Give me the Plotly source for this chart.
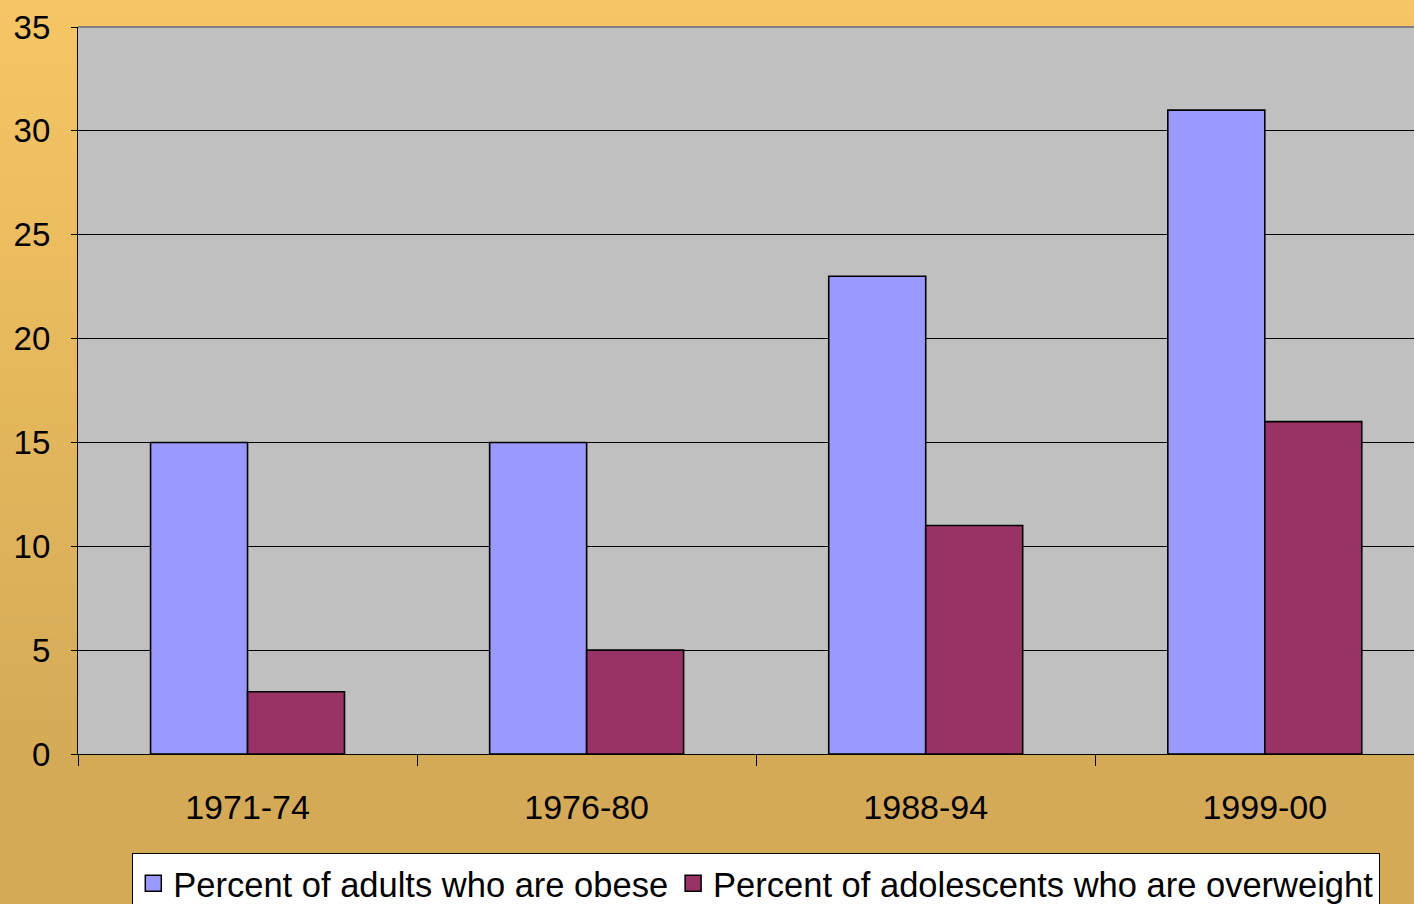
import plotly.graph_objects as go

categories = ["1971-74", "1976-80", "1988-94", "1999-00"]
adults_obese = [15, 15, 23, 31]
adolescents_overweight = [3, 5, 11, 16]
series_names = ["Percent of adults who are obese", "Percent of adolescents who are overweight"]
series_colors = ["#9999FF", "#993366"]
y_ticks = [0, 5, 10, 15, 20, 25, 30, 35]

W, H = 1414, 904
FAMILY = "Liberation Sans, Arial, sans-serif"

fig = go.Figure()
for name, vals, col in zip(series_names, [adults_obese, adolescents_overweight], series_colors):
    fig.add_trace(go.Bar(
        x=categories, y=vals, name=name, showlegend=False,
        marker=dict(color=col, line=dict(color="black", width=1.6)),
    ))
# legend entries (larger square swatches)
for name, col in zip(series_names, series_colors):
    fig.add_trace(go.Scatter(
        x=[None], y=[None], mode="markers", name=name,
        marker=dict(symbol="square", size=16, color=col, line=dict(color="black", width=1.5)),
    ))

# background gradient bands (paper)
shapes = []
top_rgb = (246, 198, 100)
bot_rgb = (212, 170, 86)
grad_end = 760
step = 4
for y0 in range(0, H, step):
    t = min(1.0, (y0 + step / 2) / grad_end)
    c = tuple(round(a + (b - a) * t) for a, b in zip(top_rgb, bot_rgb))
    shapes.append(dict(
        type="rect", xref="paper", yref="paper", layer="below",
        x0=-78 / 1336, x1=1.0,
        y0=1 - (y0 - 27) / 727, y1=1 - (y0 + step - 27) / 727,
        line=dict(width=0), fillcolor="rgb(%d,%d,%d)" % c,
    ))
# plot area background
shapes.append(dict(type="rect", xref="x domain", yref="y domain", layer="below",
                   x0=0, x1=1, y0=0, y1=1, line=dict(width=0), fillcolor="#C0C0C0"))
# top border (gray)
shapes.append(dict(type="line", xref="x domain", yref="y domain", layer="above",
                   x0=0, x1=1, y0=1, y1=1, line=dict(color="#808080", width=2)))

fig.update_layout(
    width=W, height=H,
    margin=dict(l=78, r=0, t=27, b=150, autoexpand=False),
    paper_bgcolor="rgba(0,0,0,0)",
    plot_bgcolor="rgba(0,0,0,0)",
    font=dict(family=FAMILY, size=33, color="black"),
    barmode="group",
    bargap=0.428,
    bargroupgap=0,
    shapes=shapes,
    showlegend=True,
    legend=dict(
        orientation="h", x=(132 - 78) / 1336, xanchor="left",
        y=(754 - 853) / 727, yanchor="top",
        bgcolor="white", bordercolor="black", borderwidth=1.3,
        font=dict(family=FAMILY, size=34.5, color="black"),
        itemwidth=30, traceorder="normal",
    ),
)
fig.update_xaxes(
    type="category", range=[-0.5, 3.44],
    showline=True, linecolor="black", linewidth=1.3,
    ticks="outside", tickson="boundaries", ticklen=11, tickcolor="black", tickwidth=1.3,
    showgrid=False, ticklabelstandoff=23,
    tickfont=dict(family=FAMILY, size=34, color="black"),
)
fig.update_yaxes(
    range=[0, 35], tickvals=y_ticks,
    showline=True, linecolor="black", linewidth=1.3,
    ticks="outside", ticklen=6, tickcolor="black", tickwidth=1.3,
    showgrid=True, gridcolor="black", gridwidth=1,
    zeroline=False, ticklabelstandoff=14,
    tickfont=dict(family=FAMILY, size=33, color="black"),
)

fig.write_html(
    "out.html",
    config={"displayModeBar": False},
    post_script="document.body.style.margin='0';document.body.style.overflow='hidden';",
)
